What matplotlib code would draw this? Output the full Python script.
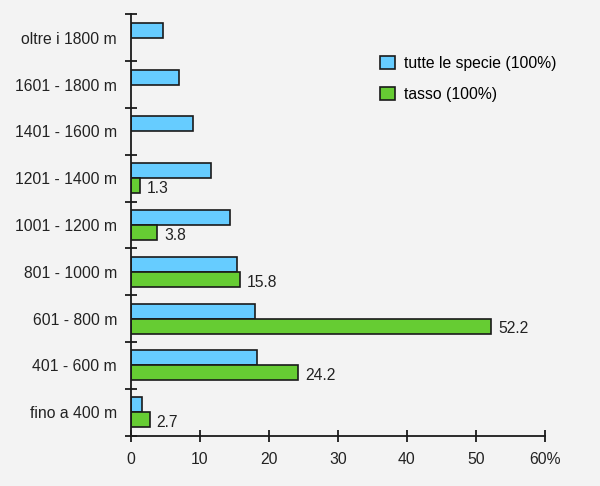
import matplotlib.pyplot as plt
import numpy as np

plt.rcParams['font.family'] = ['Liberation Sans', 'DejaVu Sans']

# fasce altitudinali (dal basso verso l'alto)
fasce = ['fino a 400 m', '401 - 600 m', '601 - 800 m', '801 - 1000 m',
         '1001 - 1200 m', '1201 - 1400 m', '1401 - 1600 m', '1601 - 1800 m',
         'oltre i 1800 m']
tutte_specie = [1.6, 18.2, 18.0, 15.3, 14.3, 11.6, 9.0, 6.9, 4.7]
tasso = [2.7, 24.2, 52.2, 15.8, 3.8, 1.3, 0, 0, 0]
x_ticks = [0, 10, 20, 30, 40, 50, 60]
x_labels = ['0', '10', '20', '30', '40', '50', '60%']

bg = '#f3f3f3'
blu = '#66ccff'
verde = '#66cc33'
bordo = '#1a1a1a'
fs = 11.3

fig = plt.figure(figsize=(6, 4.86), dpi=100, facecolor=bg)
ax = fig.add_axes([0.2183, 0.1035, 0.69, 0.8671], facecolor=bg)

y = np.arange(len(fasce))
h = 0.32
ax.barh(y + h / 2, tutte_specie, height=h, color=blu, edgecolor=bordo,
        linewidth=1.2, label='tutte le specie (100%)')
# il tasso e' presente solo fino a 1400 m
idx = [i for i, v in enumerate(tasso) if v > 0]
ax.barh(y[idx] - h / 2, [tasso[i] for i in idx], height=h, color=verde,
        edgecolor=bordo, linewidth=1.2, label='tasso (100%)')

# etichette dei valori del tasso
for i in idx:
    ax.annotate(f'{tasso[i]:.1f}', (tasso[i], y[i] - h / 2), xytext=(5, -2),
                textcoords='offset points', ha='left', va='center',
                fontsize=fs, color='#222222')

ax.set_xlim(0, 60)
ax.set_ylim(-0.5, len(fasce) - 0.5)
ax.set_xticks(x_ticks)
ax.set_xticklabels(x_labels, fontsize=fs, color='#222222')
ax.set_yticks(np.arange(len(fasce) + 1) - 0.5)
ax.set_yticklabels([])
ax.set_yticks(y, minor=True)
ax.set_yticklabels(fasce, minor=True, fontsize=fs, color='#222222')
ax.tick_params(axis='y', which='major', direction='inout', length=9, width=1.3,
               color=bordo)
ax.tick_params(axis='y', which='minor', length=0, pad=10)
ax.tick_params(axis='x', direction='inout', length=9, width=1.3, color=bordo,
               pad=7)
for s in ['top', 'right']:
    ax.spines[s].set_visible(False)
for s in ['left', 'bottom']:
    ax.spines[s].set_linewidth(1.3)
    ax.spines[s].set_color(bordo)

ax.legend(loc='upper left', bbox_to_anchor=(0.568, 0.935), frameon=False,
          fontsize=fs, handlelength=0.95, handleheight=0.95, labelspacing=1.0,
          handletextpad=0.55)

plt.savefig('out.png', dpi=100, facecolor=bg)
